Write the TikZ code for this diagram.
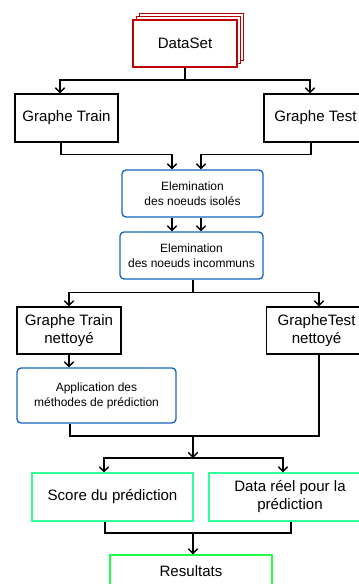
\documentclass[tikz,border=0pt]{standalone}
\usepackage{fontspec}
\setmainfont{Liberation Sans}
\usetikzlibrary{arrows.meta}
\definecolor{dsred}{HTML}{C00000}
\definecolor{opblue}{HTML}{1565C0}
\definecolor{scgreen}{HTML}{33FF99}
\definecolor{resgreen}{HTML}{22FF44}

\begin{document}
\begin{tikzpicture}[x=0.75pt, y=-0.75pt]
 \tikzstyle{bnode}=[rectangle, draw, line width=1pt, fill=white, align=center, inner sep=2pt, font=\fontsize{11.3}{13.5}\selectfont, minimum height=36pt]
 \tikzstyle{opnode}=[bnode, draw=opblue, rounded corners=3pt, font=\fontsize{9}{11.25}\selectfont]
 \tikzstyle{dsnode}=[bnode, draw=dsred, minimum width=78pt, minimum height=35.25pt]
 \tikzstyle{line}=[draw, line width=1pt, -{Straight Barb[length=3.5pt,width=7pt]}]
 \tikzstyle{wire}=[draw, line width=1pt]

 \useasboundingbox (0,0) rectangle (359,584);
 \clip (0,0) rectangle (359,584);

 \node[dsnode] (data3) at (191.5,37) {};
 \node[dsnode] (data2) at (188.25,40.25) {};
 \node[dsnode] (data) at (185,43.5) {DataSet};

 \node[bnode, minimum width=77.25pt] (gtrain) at (66.5,118) {Graphe Train};
 \node[bnode, minimum width=77.25pt] (gtest) at (315.5,118) {Graphe Test};

 \node[opnode, minimum width=105.75pt, minimum height=35.25pt] (elim1) at (192.5,193.5) {Elemination\\des noeuds isolés};
 \node[opnode, minimum width=107.25pt, minimum height=35.25pt] (elim2) at (191.5,255.5) {Elemination\\des noeuds incommuns};

 \node[bnode, minimum width=78pt, minimum height=35.25pt] (gtrainn) at (69,330.5) {Graphe Train\\nettoyé};
 \node[bnode, minimum width=75pt, minimum height=35.25pt] (gtestn) at (316.5,330.5) {GrapheTest\\nettoyé};

 \node[opnode, minimum width=119.25pt, minimum height=41.25pt] (appli) at (96.5,395.5) {Application des\\méthodes de prédiction};

 \node[bnode, draw=scgreen, minimum width=120.75pt] (score) at (112.5,497) {Score du prédiction};
 \node[bnode, draw=scgreen, minimum width=121.5pt] (datareel) at (290,497) {Data réel pour la\\prédiction};

 \node[bnode, draw=resgreen, minimum width=121.5pt, minimum height=24pt] (result) at (191,571) {Resultats};

 \coordinate (j1) at (185,80);
 \coordinate (j3) at (193,436);
 \coordinate (j4) at (193,458);
 \coordinate (j5) at (193,533);

 \path[wire] (data) -- (j1);
 \path[line] (j1) -| ([xshift=-4.9pt]gtrain.north);
 \path[line] (j1) -| ([xshift=-4.1pt]gtest.north);

 \path[line] ([xshift=-4.1pt]gtrain.south) -- ++(0,12) -| ([xshift=-15.4pt]elim1.north);
 \path[line] ([xshift=-3.4pt]gtest.south) -- ++(0,12) -| ([xshift=6.4pt]elim1.north);

 \path[line] ([xshift=-15.4pt]elim1.south) -- ([xshift=-15.4pt]elim1.south |- elim2.north);
 \path[line] ([xshift=6.4pt]elim1.south) -- ([xshift=6.4pt]elim1.south |- elim2.north);

 \path[line] ([xshift=1.1pt]elim2.south) -- ++(0,13) -| (gtrainn.north);
 \path[line] ([xshift=1.1pt]elim2.south) -- ++(0,13) -| ([xshift=1.9pt]gtestn.north);

 \path[line] (gtrainn) -- (gtrainn.south |- appli.north);

 \path[wire] ([xshift=-19.9pt]appli.south) |- (j3);
 \path[wire] ([xshift=1.9pt]gtestn.south) |- (j3);
 \path[line] (j3) -- (j4);
 \path[line] (j4) -| ([xshift=-6.4pt]score.north);
 \path[line] (j4) -| ([xshift=-5.25pt]datareel.north);

 \path[wire] ([xshift=-5.6pt]score.south) |- (j5);
 \path[wire] ([xshift=0.75pt]datareel.south) |- (j5);
 \path[line] (j5) -- ([xshift=1.5pt]result.north);
\end{tikzpicture}
\end{document}
